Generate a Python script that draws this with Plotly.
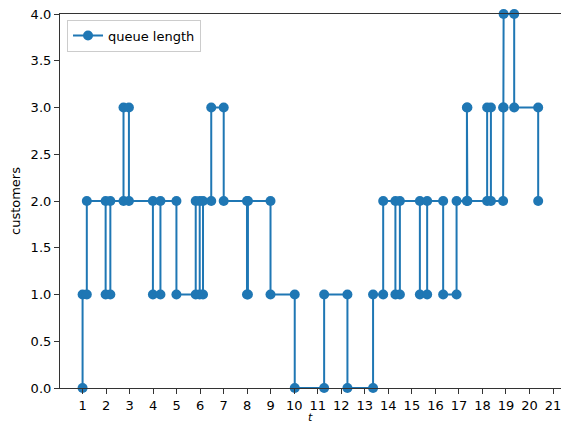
import plotly.graph_objects as go

# event times (each event appears twice: value before, value after)
t = [1.00, 1.00, 1.18, 1.18, 1.98, 1.98, 2.18, 2.18, 2.74, 2.74, 2.97, 2.97,
     3.99, 3.99, 4.31, 4.31, 4.99, 4.99, 5.81, 5.81, 5.98, 5.98, 6.12, 6.12,
     6.47, 6.47, 7.00, 7.00, 7.99, 7.99, 8.03, 8.03, 8.99, 8.99, 10.02, 10.02,
     11.27, 11.27, 12.26, 12.26, 13.35, 13.35, 13.78, 13.78, 14.30, 14.30,
     14.49, 14.49, 15.34, 15.34, 15.65, 15.65, 16.33, 16.33, 16.90, 16.90,
     17.34, 17.34, 17.36, 17.36, 18.20, 18.20, 18.36, 18.36, 18.88, 18.88,
     18.90, 18.90, 19.35, 19.35, 20.37, 20.37]
queue = [0, 1, 1, 2, 2, 1, 1, 2, 2, 3, 3, 2,
         2, 1, 1, 2, 2, 1, 1, 2, 2, 1, 1, 2,
         2, 3, 3, 2, 2, 1, 1, 2, 2, 1, 1, 0,
         0, 1, 1, 0, 0, 1, 1, 2, 2, 1,
         1, 2, 2, 1, 1, 2, 2, 1, 1, 2,
         2, 3, 3, 2, 2, 3, 3, 2, 2, 3,
         3, 4, 4, 3, 3, 2]

x_ticks = list(range(1, 22))
y_ticks = [0.0, 0.5, 1.0, 1.5, 2.0, 2.5, 3.0, 3.5, 4.0]

blue = "#1f77b4"
font = "DejaVu Sans"

fig = go.Figure()
fig.add_trace(go.Scatter(
    x=t, y=queue, mode="lines+markers", name="queue length",
    line=dict(color=blue, width=2),
    marker=dict(color=blue, size=10),
    cliponaxis=False,
))

fig.update_layout(
    width=561, height=423,
    margin=dict(l=60, r=0, t=14, b=35),
    plot_bgcolor="white", paper_bgcolor="white",
    font=dict(family=font, size=13, color="black"),
    showlegend=True,
    legend=dict(x=0.014, y=0.985, xanchor="left", yanchor="top",
                bgcolor="rgba(255,255,255,0.8)", bordercolor="#cccccc",
                borderwidth=1, font=dict(size=13)),
    xaxis=dict(range=[0.04, 21.34], tickvals=x_ticks,
               ticktext=[str(v) for v in x_ticks], automargin=False,
               ticklabeloverflow="allow",
               showgrid=False, zeroline=False, showline=True, mirror=True,
               linecolor="#333333", linewidth=1.2, ticks="outside",
               ticklen=5, tickcolor="#333333"),
    yaxis=dict(range=[0, 4], tickvals=y_ticks, automargin=False,
               ticktext=[f"{v:.1f}" for v in y_ticks],
               showgrid=False, zeroline=False, showline=True,
               linecolor="#333333", linewidth=1.2, ticks="outside",
               ticklen=5, tickcolor="#333333"),
    annotations=[
        dict(text="<i>t</i>", x=0.5, y=0, xref="paper", yref="paper",
             xanchor="center", yanchor="middle", yshift=-29, showarrow=False,
             font=dict(size=11)),
        dict(text="customers", x=0, y=0.5, xref="paper", yref="paper",
             xanchor="center", yanchor="middle", xshift=-45, showarrow=False,
             textangle=-90, font=dict(size=13)),
    ],
)

fig.write_html(
    "out.html",
    config={"displayModeBar": False},
    post_script="document.body.style.margin='0';document.body.style.overflow='hidden';",
)
